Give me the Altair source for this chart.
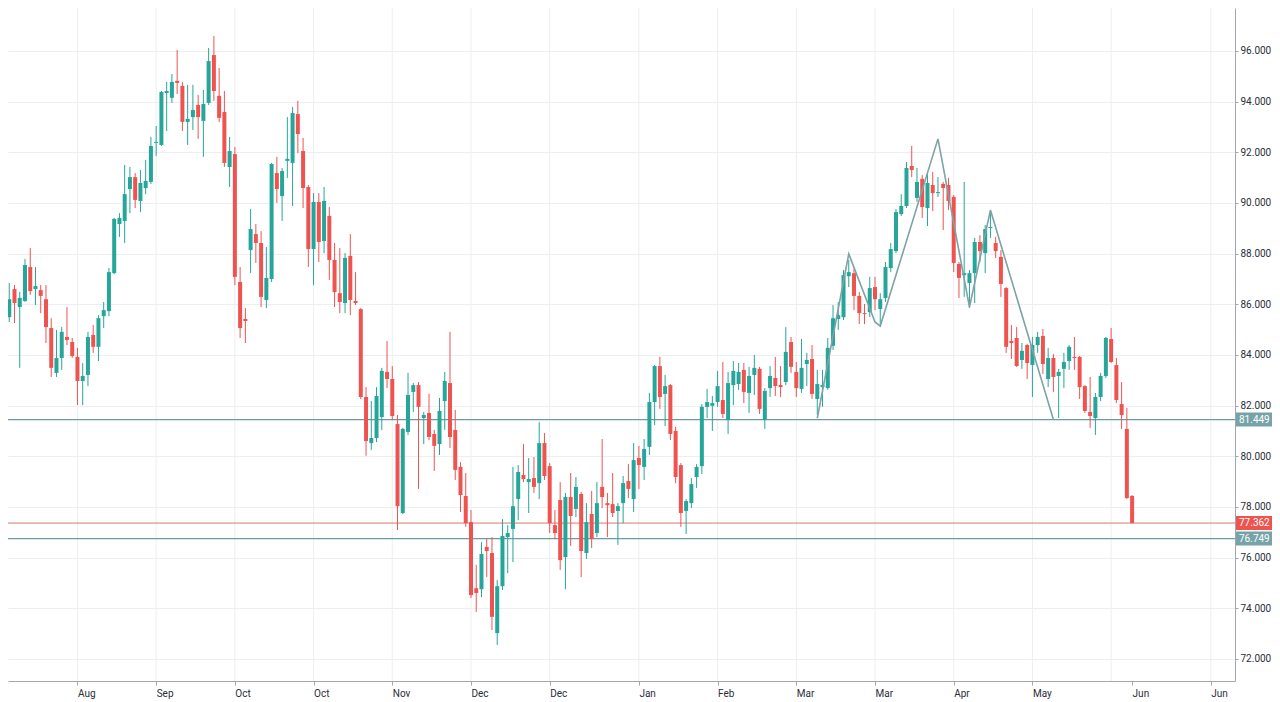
import altair as alt
import pandas as pd

# ---- OHLC values (one candle per trading day) ----
opens = [83.72,85.49,86.60,85.89,86.13,87.47,86.60,86.56,86.20,85.06,83.29,83.88,84.71,84.51,83.92,82.97,83.21,84.79,84.32,85.53,
85.73,87.23,89.17,89.29,90.55,91.02,90.08,90.59,90.83,92.37,92.29,94.34,94.15,94.82,94.62,93.20,93.39,93.87,93.24,93.95,
95.84,94.23,93.59,91.42,91.93,86.88,85.42,88.14,88.77,88.42,86.17,87.00,91.18,90.27,91.66,91.58,93.51,92.05,90.63,88.18,
90.04,88.50,89.49,87.75,86.44,86.05,87.91,86.13,85.81,82.34,80.52,80.72,81.55,83.33,83.05,81.27,77.76,80.96,82.54,82.81,
81.51,81.71,80.88,80.48,82.18,82.89,81.04,79.58,78.43,77.40,74.79,74.75,76.42,76.18,73.02,74.87,76.81,77.13,78.31,79.26,
78.98,79.14,78.94,80.52,79.61,77.28,78.27,76.02,78.39,77.92,78.51,76.18,77.72,76.97,78.79,78.15,78.11,77.84,78.15,79.02,
78.31,79.93,79.58,80.37,82.14,83.56,82.46,82.81,81.00,79.65,77.84,78.15,79.18,79.61,81.95,81.99,82.14,82.22,81.43,82.81,
82.85,83.41,82.50,83.21,83.45,81.43,82.69,83.09,82.81,82.93,84.51,83.33,82.66,83.64,83.84,82.26,82.73,82.69,84.36,85.42,
85.49,87.11,87.23,86.33,85.65,85.69,86.68,85.81,86.25,87.43,88.10,89.56,89.88,91.46,90.20,90.95,89.80,90.71,90.39,90.75,
90.71,90.24,87.59,87.15,86.84,87.23,88.46,88.02,89.01,88.42,87.87,86.64,84.55,84.67,83.80,84.39,83.60,84.39,84.75,83.05,
83.88,83.17,83.45,83.76,83.92,83.92,82.77,81.75,81.51,82.34,83.17,84.63,83.60,82.06,81.08,78.43]
highs = [85.57,86.84,86.76,86.48,87.79,88.22,87.47,86.76,86.76,85.45,84.99,85.10,85.89,84.67,84.28,83.68,84.91,85.18,85.57,86.09,
87.43,89.41,89.60,91.50,91.42,91.18,91.30,91.70,92.61,93.04,94.42,94.78,95.09,96.04,94.78,94.66,94.66,94.27,94.46,96.12,
96.59,95.33,94.42,92.61,92.21,87.47,85.85,89.76,89.17,88.89,88.26,91.58,91.82,91.38,93.39,93.79,94.03,92.57,90.71,90.39,
90.39,90.63,89.84,88.42,88.22,88.02,88.77,87.27,85.85,82.73,82.18,82.73,83.49,84.55,83.56,81.63,81.12,83.29,82.89,82.93,
81.75,82.46,81.04,82.30,83.33,84.91,81.83,79.77,79.34,77.88,75.71,76.61,76.73,76.81,75.11,77.52,77.28,79.58,79.65,80.48,
79.93,79.97,81.35,80.92,79.73,77.88,78.98,78.55,79.34,79.18,78.59,78.15,78.63,78.98,80.68,78.55,79.34,78.15,79.22,79.69,
80.52,80.41,80.68,82.50,83.60,83.92,83.21,82.85,81.16,79.73,78.31,79.14,79.69,82.06,82.66,82.38,83.37,83.72,83.33,83.76,
83.68,83.68,83.53,84.00,83.53,82.69,83.56,83.92,83.56,85.10,84.71,83.72,84.63,84.08,84.39,83.41,83.41,84.67,85.97,86.09,
87.35,87.75,87.39,86.48,86.01,87.08,87.08,86.44,87.67,88.42,89.76,90.35,91.62,92.25,91.38,91.10,91.18,91.22,91.02,90.83,
90.99,90.31,87.67,90.83,87.35,88.62,88.73,89.13,89.64,88.66,88.14,86.68,85.18,85.10,84.47,84.43,84.71,84.91,85.02,84.28,
84.04,83.45,84.08,84.39,84.71,83.96,82.81,83.13,82.50,83.29,84.71,85.06,83.88,82.93,81.91,78.47]
lows = [82.54,85.30,85.26,83.49,86.09,86.37,85.97,85.65,84.47,83.13,83.13,83.41,84.39,83.88,82.02,82.02,82.77,84.08,83.76,85.06,
85.53,87.19,88.66,88.42,89.60,89.80,89.64,90.35,90.75,91.86,92.25,92.84,93.95,94.30,92.84,92.29,92.88,92.53,91.82,93.87,
94.03,93.20,91.42,90.63,86.76,84.67,84.47,87.23,87.63,85.89,85.85,86.88,90.00,89.29,90.99,89.88,91.97,89.80,87.47,86.76,
87.67,88.02,86.96,85.89,85.65,85.65,85.57,85.97,82.26,80.02,80.25,80.56,81.04,82.69,81.43,77.09,77.72,80.84,81.75,78.71,
80.48,80.64,79.42,80.05,81.04,80.33,79.06,77.80,77.21,74.40,73.85,74.44,75.23,73.14,72.55,74.72,75.39,75.82,77.48,78.98,
77.76,78.55,78.31,79.06,76.97,76.73,75.51,74.75,76.46,77.60,75.23,75.94,76.38,76.81,77.96,76.81,77.60,76.50,77.36,78.35,
77.80,78.71,79.06,80.05,81.23,81.87,81.19,80.64,78.94,77.21,76.93,77.96,78.75,79.30,81.51,81.00,81.95,81.51,80.88,82.02,
82.62,82.10,81.71,82.42,81.67,81.08,82.34,82.38,82.34,82.81,83.29,82.34,82.50,82.77,82.26,81.63,81.95,82.62,84.20,84.99,
85.38,86.68,85.77,85.22,85.22,85.49,85.77,85.18,86.09,87.27,88.02,89.49,89.80,91.02,90.04,89.41,89.09,89.68,90.24,88.93,
89.72,87.27,86.25,86.29,85.85,86.05,87.67,87.23,88.62,87.83,86.29,84.08,83.84,83.53,83.45,83.05,82.34,84.08,83.25,82.73,
82.54,81.51,82.69,83.41,83.41,82.26,81.71,81.12,80.84,82.18,83.09,83.68,82.10,81.08,78.31,77.362]
closes = [85.45,86.20,86.05,86.25,87.55,86.52,86.72,86.33,85.10,83.49,83.88,84.91,84.59,83.96,82.97,83.17,84.71,84.32,85.45,85.77,
87.27,89.37,89.41,90.35,91.02,90.12,90.79,90.87,92.25,92.41,94.38,94.42,94.78,94.74,93.20,93.32,93.67,93.39,93.91,95.60,
94.42,93.36,91.58,92.05,87.08,85.06,85.34,88.97,88.42,86.29,87.04,91.54,90.55,91.26,91.74,93.55,92.72,90.59,88.18,90.04,
88.46,90.08,87.75,86.48,86.09,87.83,86.17,86.05,82.34,80.60,80.72,82.38,83.37,83.05,81.59,78.03,81.08,82.42,82.81,81.95,
81.63,80.76,80.41,81.79,82.97,80.76,79.46,78.47,77.36,74.52,74.60,76.14,76.26,73.66,74.87,76.85,76.97,78.03,79.38,79.10,
79.10,78.79,80.52,79.22,77.36,76.97,75.90,78.39,77.64,78.79,76.26,77.40,76.73,78.15,78.39,78.07,77.76,78.03,78.94,78.71,
79.85,79.65,80.29,82.14,83.56,82.34,82.77,80.88,79.18,77.76,78.23,78.90,79.58,81.95,82.14,82.10,82.77,81.67,82.89,83.37,
83.33,82.54,83.17,83.49,81.87,82.58,83.17,82.77,82.73,84.12,83.53,82.69,83.49,83.80,82.46,82.85,82.81,84.28,85.45,85.57,
87.15,87.27,86.33,85.65,85.61,86.64,86.20,86.20,87.47,88.18,89.64,89.88,91.38,91.30,90.83,89.84,90.79,90.39,90.43,90.59,
90.08,87.63,87.04,87.23,87.23,88.46,88.10,88.97,89.05,88.10,86.80,84.32,84.47,83.56,84.16,83.68,84.39,84.71,83.64,83.88,
83.13,83.33,83.72,84.32,83.88,82.73,81.79,81.59,82.34,83.17,84.67,83.72,82.22,81.63,78.35,77.362]

# ---- x-axis: month labels at candle positions, grid lines ----
tick_pos = [14, 29, 44, 59, 74, 89, 104, 121, 136, 151, 166, 181, 196, 215, 230]
tick_labels = ["Aug", "Sep", "Oct", "Oct", "Nov", "Dec", "Dec", "Jan", "Feb", "Mar", "Mar", "Apr", "May", "Jun", "Jun"]
grid_pos = [14, 29, 44, 59, 74, 89, 104, 121, 136, 151, 166, 181, 196, 211, 230]

# ---- y-axis ticks ----
price_ticks = [72, 74, 76, 78, 80, 82, 84, 86, 88, 90, 92, 94, 96]

# ---- horizontal levels ----
level_prices = [81.449, 76.749]
last_price = 77.362

# ---- zigzag pattern drawing ----
zz_idx = [155, 161, 166, 167, 178, 184, 188, 200]
zz_price = [81.50, 87.99, 85.30, 85.14, 92.53, 85.89, 89.72, 81.449]

TEAL = "#26a69a"
RED = "#ef5350"
LEVEL = "#6a9ca1"
GRID = "#eceef1"
AXIS = "#a3a6af"
TXT = "#2a2e39"
FONT = "Roboto"

W, H = 1227, 673
xdom = [0.762, 234.61]
ydom = [71.127, 97.697]

n = len(opens)
df = pd.DataFrame({"i": list(range(n)), "open": opens, "high": highs, "low": lows, "close": closes})
df["dir"] = ["up" if c >= o else "down" for o, c in zip(opens, closes)]

label_expr = ""
for p, l in zip(tick_pos, tick_labels):
    label_expr += f"datum.value == {p} ? '{l}' : "
label_expr += "''"

xscale = alt.Scale(domain=xdom, nice=False, zero=False, padding=0)
yscale = alt.Scale(domain=ydom, nice=False, zero=False, padding=0)
xaxis = alt.Axis(values=tick_pos, labelExpr=label_expr, grid=False, title=None, orient="bottom",
                 labelAlign="left", labelPadding=3, tickSize=4, tickColor=AXIS, domainColor=AXIS,
                 labelFont=FONT, labelFontSize=10, labelColor=TXT, labelFlush=False, labelOverlap=False)
yaxis = alt.Axis(values=price_ticks, format=".3f", title=None, orient="right", grid=True, gridColor=GRID,
                 tickSize=3, tickColor=AXIS, domainColor=AXIS, labelPadding=2,
                 labelFont=FONT, labelFontSize=10, labelColor=TXT, labelFlush=False, labelOverlap=False)

color = alt.Color("dir:N", scale=alt.Scale(domain=["up", "down"], range=[TEAL, RED]), legend=None)

vgrid = alt.Chart(pd.DataFrame({"g": grid_pos})).mark_rule(color=GRID, strokeWidth=1, clip=True).encode(
    x=alt.X("g:Q", scale=xscale, axis=xaxis)
)

levels = alt.Chart(pd.DataFrame({"p": level_prices})).mark_rule(color=LEVEL, strokeWidth=1.3, clip=True).encode(
    y=alt.Y("p:Q", scale=yscale, axis=yaxis)
)
lastline = alt.Chart(pd.DataFrame({"p": [last_price]})).mark_rule(color="#d8786f", strokeWidth=1, clip=True).encode(
    y=alt.Y("p:Q", scale=yscale, axis=yaxis)
)

base = alt.Chart(df)
wicks = base.mark_rule(strokeWidth=1, clip=True).encode(
    x=alt.X("i:Q", scale=xscale, axis=xaxis),
    y=alt.Y("low:Q", scale=yscale, axis=yaxis),
    y2="high:Q",
    color=color,
)
bodies = base.mark_bar(size=4, clip=True).encode(
    x=alt.X("i:Q", scale=xscale, axis=xaxis),
    y=alt.Y("open:Q", scale=yscale, axis=yaxis),
    y2="close:Q",
    color=color,
)

zz = alt.Chart(pd.DataFrame({"i": zz_idx, "p": zz_price, "o": list(range(len(zz_idx)))})).mark_line(
    color="#7ea2a6", strokeWidth=1.6, clip=True).encode(
    x=alt.X("i:Q", scale=xscale, axis=xaxis),
    y=alt.Y("p:Q", scale=yscale, axis=yaxis),
    order="o:Q",
)

tags = pd.DataFrame({
    "p": [level_prices[0], last_price, level_prices[1]],
    "t": [f"{level_prices[0]:.3f}", f"{last_price:.3f}", f"{level_prices[1]:.3f}"],
    "c": ["lvl", "last", "lvl"],
})
tag_color = alt.Color("c:N", scale=alt.Scale(domain=["lvl", "last"], range=["#76a3a8", RED]), legend=None)
tag_box = alt.Chart(tags).mark_rule(strokeWidth=14).encode(
    y=alt.Y("p:Q", scale=yscale, axis=yaxis),
    x=alt.value(W + 1), x2=alt.value(W + 37),
    color=tag_color,
)
tag_text = alt.Chart(tags).mark_text(align="left", baseline="middle", color="white", font=FONT, fontSize=10).encode(
    y=alt.Y("p:Q", scale=yscale, axis=yaxis),
    x=alt.value(W + 4),
    text="t:N",
)

chart = alt.layer(vgrid, levels, lastline, wicks, bodies, zz, tag_box, tag_text).resolve_scale(
    color="independent"
).properties(
    width=W, height=H,
    autosize=alt.AutoSizeParams(type="none"),
    padding={"left": 0, "top": 0, "right": 37, "bottom": 21},
    background="white",
).configure_view(stroke=None)

chart.save("out.html", embed_options={"renderer": "svg", "actions": False})
